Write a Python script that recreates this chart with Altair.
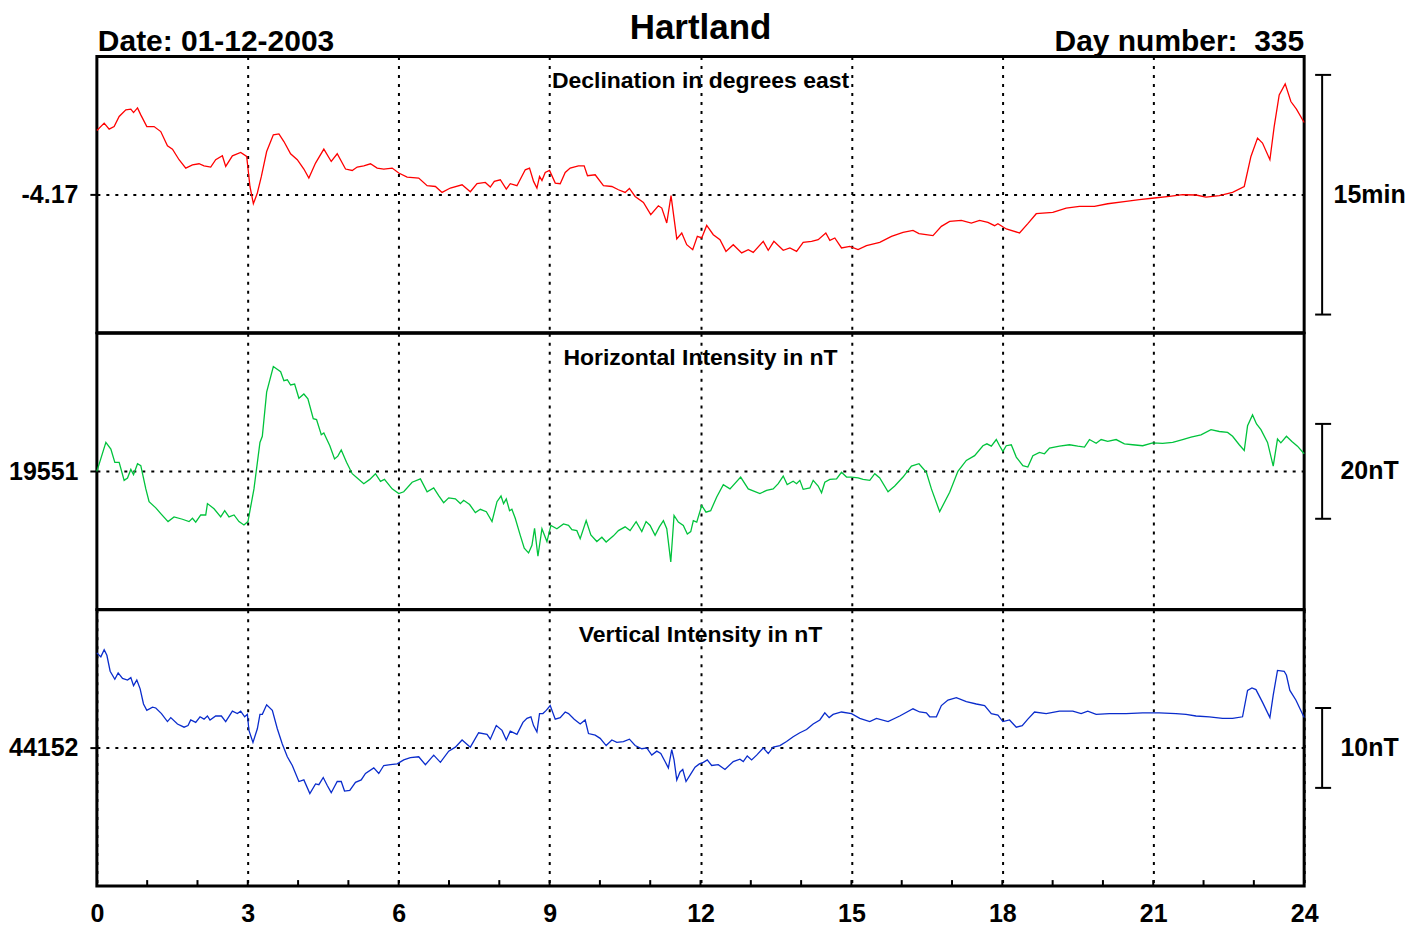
import altair as alt
import pandas as pd

FONT = "Liberation Sans"
W = 1209
PH = 276.67

# ---------------- Declination (degrees east) ----------------
D_T = [0.0, 0.145, 0.244, 0.343, 0.443, 0.576, 0.675, 0.729, 0.808, 0.873, 0.993, 1.137, 1.270, 1.403, 1.503,
       1.634, 1.767, 1.900, 2.031, 2.130, 2.263, 2.362, 2.495, 2.561, 2.694, 2.859, 2.978, 3.043, 3.111, 3.190,
       3.270, 3.375, 3.508, 3.619, 3.718, 3.851, 3.984, 4.115, 4.214, 4.347, 4.512, 4.659, 4.778, 4.943, 5.076,
       5.175, 5.306, 5.439, 5.572, 5.703, 5.870, 6.001, 6.168, 6.398, 6.565, 6.730, 6.862, 7.027, 7.260, 7.424,
       7.557, 7.722, 7.821, 7.901, 8.020, 8.139, 8.218, 8.351, 8.516, 8.601, 8.681, 8.748, 8.800, 8.848, 8.913,
       8.999, 9.112, 9.211, 9.310, 9.409, 9.574, 9.687, 9.753, 9.906, 10.070, 10.237, 10.368, 10.501, 10.587,
       10.700, 10.865, 11.011, 11.162, 11.230, 11.329, 11.414, 11.528, 11.627, 11.726, 11.845, 11.937, 12.024,
       12.123, 12.254, 12.387, 12.506, 12.651, 12.818, 12.949, 13.048, 13.247, 13.346, 13.459, 13.644, 13.777,
       13.910, 14.041, 14.208, 14.339, 14.491, 14.571, 14.670, 14.803, 14.968, 15.132, 15.299, 15.563, 15.796,
       16.026, 16.224, 16.343, 16.621, 16.788, 16.953, 17.185, 17.384, 17.548, 17.713, 17.846, 17.912, 18.079,
       18.342, 18.507, 18.674, 19.003, 19.269, 19.533, 19.831, 20.095, 20.460, 20.724, 21.022, 21.320, 21.584,
       21.850, 22.049, 22.313, 22.577, 22.809, 22.942, 23.073, 23.172, 23.319, 23.404, 23.504, 23.623, 23.736,
       23.847, 24.0]
D_V = [-4.1030, -4.0953, -4.1016, -4.0989, -4.0884, -4.0815, -4.0807, -4.0843, -4.0794, -4.0867, -4.0989,
       -4.0989, -4.1041, -4.1190, -4.1224, -4.1335, -4.1422, -4.1388, -4.1377, -4.1398, -4.1411, -4.1335,
       -4.1294, -4.1405, -4.1294, -4.1259, -4.1301, -4.1614, -4.1794, -4.1682, -4.1509, -4.1249, -4.1075,
       -4.1065, -4.1145, -4.1273, -4.1335, -4.1432, -4.1526, -4.1370, -4.1224, -4.1353, -4.1273, -4.1432,
       -4.1447, -4.1411, -4.1398, -4.1377, -4.1422, -4.1432, -4.1422, -4.1474, -4.1516, -4.1526, -4.1606,
       -4.1614, -4.1676, -4.1630, -4.1596, -4.1669, -4.1585, -4.1572, -4.1620, -4.1561, -4.1544, -4.1641,
       -4.1585, -4.1606, -4.1440, -4.1422, -4.1561, -4.1630, -4.1509, -4.1551, -4.1468, -4.1447, -4.1578,
       -4.1585, -4.1468, -4.1422, -4.1398, -4.1398, -4.1502, -4.1492, -4.1606, -4.1614, -4.1648, -4.1676,
       -4.1634, -4.1718, -4.1780, -4.1908, -4.1815, -4.1839, -4.1995, -4.1710, -4.2161, -4.2099, -4.2221,
       -4.2273, -4.2134, -4.2151, -4.2020, -4.2117, -4.2169, -4.2291, -4.2221, -4.2307, -4.2273, -4.2301,
       -4.2186, -4.2280, -4.2186, -4.2280, -4.2255, -4.2291, -4.2197, -4.2186, -4.2169, -4.2099, -4.2176,
       -4.2151, -4.2255, -4.2239, -4.2273, -4.2231, -4.2197, -4.2134, -4.2093, -4.2072, -4.2106, -4.2127,
       -4.2030, -4.1978, -4.1968, -4.1995, -4.1968, -4.1989, -4.2023, -4.2002, -4.2057, -4.2099, -4.2002,
       -4.1898, -4.1884, -4.1839, -4.1822, -4.1822, -4.1794, -4.1770, -4.1752, -4.1734, -4.1718, -4.1700,
       -4.1703, -4.1724, -4.1710, -4.1676, -4.1614, -4.1301, -4.1109, -4.1161, -4.1335, -4.0989, -4.0658,
       -4.0544, -4.0728, -4.0807, -4.0947]

# ---------------- Horizontal intensity (nT) ----------------
H_T = [0.0, 0.179, 0.278, 0.357, 0.443, 0.542, 0.609, 0.675, 0.729, 0.808, 0.873, 0.973, 1.038, 1.171, 1.270,
       1.415, 1.534, 1.701, 1.832, 1.900, 1.965, 2.065, 2.164, 2.198, 2.329, 2.462, 2.541, 2.626, 2.726, 2.825,
       2.924, 3.003, 3.123, 3.242, 3.289, 3.375, 3.508, 3.653, 3.718, 3.786, 3.851, 3.931, 4.016, 4.115, 4.195,
       4.302, 4.367, 4.461, 4.512, 4.631, 4.725, 4.790, 4.858, 4.963, 5.076, 5.175, 5.306, 5.425, 5.538, 5.638,
       5.717, 5.870, 6.001, 6.100, 6.267, 6.432, 6.565, 6.696, 6.795, 6.894, 6.994, 7.127, 7.226, 7.291, 7.410,
       7.524, 7.623, 7.742, 7.855, 7.954, 8.034, 8.085, 8.139, 8.204, 8.250, 8.317, 8.417, 8.496, 8.582, 8.649,
       8.701, 8.768, 8.848, 8.947, 9.026, 9.145, 9.276, 9.376, 9.443, 9.542, 9.608, 9.727, 9.820, 9.939, 10.039,
       10.124, 10.269, 10.368, 10.501, 10.600, 10.720, 10.833, 10.918, 10.998, 11.097, 11.182, 11.262, 11.329,
       11.409, 11.474, 11.559, 11.658, 11.738, 11.806, 11.857, 11.925, 12.024, 12.109, 12.202, 12.322, 12.453,
       12.586, 12.798, 12.949, 13.181, 13.314, 13.445, 13.545, 13.644, 13.723, 13.842, 13.910, 13.975, 14.041,
       14.174, 14.240, 14.339, 14.406, 14.471, 14.571, 14.704, 14.803, 14.903, 15.002, 15.133, 15.232, 15.365,
       15.464, 15.563, 15.728, 15.861, 16.026, 16.193, 16.343, 16.490, 16.590, 16.754, 16.953, 17.117, 17.284,
       17.449, 17.614, 17.693, 17.781, 17.880, 17.945, 18.011, 18.078, 18.178, 18.277, 18.408, 18.507, 18.607,
       18.739, 18.838, 18.938, 19.136, 19.335, 19.500, 19.633, 19.732, 19.865, 19.964, 20.095, 20.262, 20.427,
       20.592, 20.790, 20.989, 21.187, 21.386, 21.584, 21.751, 21.949, 22.148, 22.313, 22.478, 22.577, 22.710,
       22.809, 22.875, 22.974, 23.053, 23.141, 23.272, 23.385, 23.470, 23.537, 23.648, 23.756, 23.867, 24.0]
H_V = [19551.0, 19557.1, 19555.7, 19552.9, 19552.9, 19549.1, 19549.6, 19551.4, 19550.3, 19552.6, 19552.2,
       19547.3, 19544.6, 19543.3, 19542.1, 19540.4, 19541.4, 19540.9, 19540.4, 19541.1, 19540.3, 19541.8,
       19541.8, 19544.2, 19543.1, 19541.4, 19542.7, 19541.4, 19541.8, 19540.4, 19539.7, 19540.4, 19547.3,
       19557.1, 19558.4, 19567.7, 19573.1, 19572.0, 19570.1, 19570.3, 19569.2, 19569.4, 19566.4, 19567.3,
       19566.3, 19562.1, 19561.9, 19558.7, 19559.1, 19556.4, 19553.6, 19554.2, 19555.5, 19552.9, 19550.5,
       19549.6, 19548.4, 19549.3, 19550.5, 19548.9, 19549.3, 19547.3, 19546.3, 19546.7, 19548.7, 19549.4,
       19546.7, 19547.5, 19545.9, 19544.4, 19545.4, 19545.2, 19544.2, 19544.9, 19544.0, 19542.3, 19543.0,
       19542.5, 19540.4, 19544.6, 19545.8, 19544.2, 19545.2, 19542.7, 19543.0, 19541.1, 19537.5, 19534.8,
       19533.8, 19535.4, 19539.0, 19533.1, 19538.9, 19536.2, 19539.6, 19538.9, 19539.9, 19539.6, 19538.7,
       19538.5, 19536.8, 19540.6, 19537.6, 19536.2, 19537.1, 19536.1, 19537.4, 19538.5, 19539.3, 19538.5,
       19540.4, 19538.3, 19540.4, 19539.6, 19537.5, 19539.3, 19540.6, 19538.9, 19531.9, 19541.7, 19540.3,
       19539.6, 19537.8, 19538.3, 19540.6, 19540.3, 19543.8, 19542.4, 19542.7, 19545.6, 19548.2, 19547.3,
       19549.8, 19547.3, 19546.3, 19547.0, 19547.3, 19548.4, 19550.0, 19548.2, 19548.9, 19548.4, 19549.1,
       19547.2, 19547.5, 19549.1, 19547.9, 19546.5, 19548.7, 19549.3, 19549.4, 19550.8, 19549.8, 19549.8,
       19549.6, 19549.3, 19549.1, 19550.5, 19549.6, 19546.7, 19547.9, 19549.8, 19552.1, 19552.6, 19550.8,
       19547.3, 19542.5, 19546.6, 19551.0, 19553.3, 19554.3, 19556.4, 19556.8, 19556.3, 19557.7, 19556.4,
       19555.2, 19556.4, 19556.6, 19554.0, 19552.2, 19551.9, 19554.3, 19555.0, 19554.7, 19555.9, 19556.3,
       19556.6, 19556.3, 19556.1, 19557.7, 19556.9, 19557.7, 19557.3, 19557.7, 19556.8, 19556.6, 19556.4,
       19557.0, 19556.9, 19557.1, 19557.7, 19558.2, 19558.7, 19559.8, 19559.4, 19559.2, 19558.4, 19556.6,
       19555.4, 19560.6, 19562.9, 19561.0, 19559.8, 19557.1, 19552.1, 19557.8, 19557.0, 19558.4, 19557.3,
       19556.3, 19554.7]

# ---------------- Vertical intensity (nT) ----------------
Z_T = [0.0, 0.079, 0.145, 0.199, 0.264, 0.357, 0.423, 0.510, 0.609, 0.675, 0.729, 0.794, 0.860, 0.927, 0.993,
       1.106, 1.171, 1.284, 1.403, 1.469, 1.602, 1.733, 1.812, 1.866, 1.965, 2.051, 2.130, 2.198, 2.249, 2.362,
       2.475, 2.561, 2.694, 2.793, 2.859, 2.938, 2.992, 3.023, 3.103, 3.190, 3.242, 3.289, 3.375, 3.488, 3.587,
       3.686, 3.786, 3.885, 4.016, 4.115, 4.234, 4.347, 4.413, 4.500, 4.580, 4.659, 4.778, 4.858, 4.923, 5.028,
       5.141, 5.255, 5.340, 5.505, 5.604, 5.703, 5.836, 5.969, 6.100, 6.233, 6.398, 6.531, 6.696, 6.829, 6.994,
       7.127, 7.260, 7.424, 7.589, 7.756, 7.821, 7.940, 8.054, 8.139, 8.218, 8.351, 8.470, 8.550, 8.629, 8.681,
       8.748, 8.800, 8.867, 8.933, 9.012, 9.112, 9.211, 9.310, 9.376, 9.489, 9.608, 9.707, 9.773, 9.906, 10.005,
       10.124, 10.237, 10.336, 10.467, 10.587, 10.700, 10.833, 10.932, 11.031, 11.131, 11.210, 11.295, 11.361,
       11.428, 11.474, 11.528, 11.593, 11.647, 11.712, 11.792, 11.891, 11.977, 12.056, 12.135, 12.222, 12.353,
       12.486, 12.651, 12.784, 12.850, 12.929, 13.016, 13.116, 13.247, 13.346, 13.445, 13.578, 13.711, 13.842,
       13.975, 14.108, 14.239, 14.372, 14.471, 14.557, 14.636, 14.803, 15.002, 15.166, 15.365, 15.498, 15.728,
       15.960, 16.224, 16.357, 16.490, 16.556, 16.689, 16.788, 16.919, 17.086, 17.284, 17.483, 17.648, 17.781,
       17.912, 18.011, 18.144, 18.277, 18.396, 18.507, 18.640, 18.872, 19.136, 19.401, 19.567, 19.698, 19.865,
       20.129, 20.461, 20.790, 21.122, 21.453, 21.651, 21.850, 22.114, 22.378, 22.577, 22.775, 22.875, 22.962,
       23.042, 23.173, 23.319, 23.385, 23.470, 23.603, 23.648, 23.716, 23.835, 24.0]
Z_V = [44163.9, 44163.4, 44164.3, 44163.6, 44161.6, 44160.6, 44161.4, 44160.7, 44160.5, 44160.8, 44159.8,
       44160.5, 44159.4, 44157.5, 44156.7, 44157.1, 44157.0, 44156.3, 44155.3, 44155.8, 44155.0, 44154.6,
       44154.8, 44155.5, 44155.2, 44155.9, 44155.6, 44156.0, 44155.5, 44156.0, 44156.0, 44155.3, 44156.6,
       44156.3, 44156.6, 44155.9, 44156.2, 44154.2, 44152.7, 44154.4, 44156.2, 44156.2, 44157.4, 44156.7,
       44154.4, 44152.5, 44150.9, 44149.8, 44147.8, 44148.0, 44146.3, 44147.5, 44147.4, 44148.3, 44147.3,
       44146.4, 44147.8, 44147.8, 44146.6, 44146.7, 44147.7, 44148.0, 44148.8, 44149.5, 44148.8, 44149.8,
       44149.9, 44150.0, 44150.5, 44150.8, 44150.9, 44149.9, 44151.1, 44150.2, 44151.6, 44152.1, 44153.0,
       44152.1, 44153.9, 44153.7, 44153.1, 44154.8, 44154.2, 44153.0, 44154.1, 44153.7, 44155.2, 44155.7,
       44155.9, 44154.8, 44154.0, 44156.3, 44156.3, 44156.7, 44157.3, 44155.6, 44155.8, 44156.5, 44156.3,
       44155.6, 44155.0, 44155.5, 44153.8, 44153.6, 44153.2, 44152.3, 44153.0, 44152.7, 44152.8, 44153.1,
       44152.3, 44151.9, 44152.0, 44151.1, 44151.6, 44151.3, 44150.3, 44149.5, 44151.8, 44150.5, 44148.0,
       44149.0, 44149.3, 44147.8, 44148.6, 44149.6, 44150.0, 44150.2, 44150.5, 44149.8, 44149.9, 44149.3,
       44150.3, 44150.6, 44150.3, 44151.0, 44150.5, 44151.1, 44152.0, 44151.3, 44152.1, 44152.3, 44152.8,
       44153.4, 44153.9, 44154.3, 44155.0, 44155.5, 44156.4, 44155.8, 44156.2, 44156.5, 44156.3, 44155.7,
       44155.3, 44155.7, 44155.3, 44156.0, 44156.9, 44156.5, 44156.4, 44155.9, 44155.9, 44157.3, 44158.0,
       44158.3, 44157.8, 44157.5, 44157.3, 44156.3, 44156.1, 44155.3, 44155.5, 44154.6, 44154.8, 44155.6,
       44156.5, 44156.3, 44156.6, 44156.6, 44156.3, 44156.6, 44156.2, 44156.3, 44156.3, 44156.4, 44156.4,
       44156.3, 44156.2, 44156.0, 44155.9, 44155.7, 44155.7, 44155.9, 44159.2, 44159.5, 44159.3, 44157.7,
       44155.8, 44158.6, 44161.7, 44161.6, 44161.1, 44159.2, 44158.0, 44155.8]

HOURS_LABELLED = [0, 3, 6, 9, 12, 15, 18, 21, 24]
HOURS_GRID = [3, 6, 9, 12, 15, 18, 21]
HOURS_MINOR = list(range(1, 24))

PANELS = [
    {"name": "Declination in degrees east", "t": D_T, "v": D_V, "base": -4.17, "label": "-4.17",
     "half": 0.1441, "bar": 0.125, "bar_text": "15min", "color": "#ff0000", "title_y": 31},
    {"name": "Horizontal Intensity in nT", "t": H_T, "v": H_V, "base": 19551, "label": "19551",
     "half": 29.12, "bar": 10, "bar_text": "20nT", "color": "#00c33c", "title_y": 32},
    {"name": "Vertical Intensity in nT", "t": Z_T, "v": Z_V, "base": 44152, "label": "44152",
     "half": 17.29, "bar": 5, "bar_text": "10nT", "color": "#0a2ccc", "title_y": 32},
]


def txt(**kw):
    base = dict(font=FONT, fontWeight="bold", color="black")
    base.update(kw)
    return base


def make_panel(p, top=False, bottom=False):
    xs = alt.Scale(domain=[0, 24], nice=False, zero=False)
    ys = alt.Scale(domain=[p["base"] - p["half"], p["base"] + p["half"]], nice=False, zero=False)
    grid_common = dict(grid=True, gridColor="black", gridDash=[3, 6], gridWidth=2,
                       domain=False, title=None, ticks=False)
    if bottom:
        xa = alt.Axis(values=HOURS_LABELLED, labels=True, labelFont=FONT, labelFontSize=25,
                      labelFontWeight="bold", labelColor="black", labelPadding=15,
                      labelFlush=False, labelOverlap=False, **grid_common)
    else:
        xa = alt.Axis(values=HOURS_GRID, labels=False, **grid_common)
    ya = alt.Axis(values=[p["base"]], labelExpr="'" + p["label"] + "'", grid=True, gridColor="black",
                  gridDash=[3, 6], gridWidth=2, domain=False, title=None, ticks=True, tickSize=7,
                  tickWidth=2, tickColor="black", labelFont=FONT, labelFontSize=25,
                  labelFontWeight="bold", labelColor="black", labelPadding=12)
    X = alt.X("t:Q", scale=xs, axis=xa)
    Y = alt.Y("v:Q", scale=ys, axis=ya)

    df = pd.DataFrame({"t": p["t"], "v": p["v"]})
    line = alt.Chart(df).mark_line(color=p["color"], strokeWidth=1.3).encode(x=X, y=Y)

    bar_df = pd.DataFrame({"v": [p["base"] - p["bar"]], "v2": [p["base"] + p["bar"]]})
    bar = alt.Chart(bar_df).mark_rule(color="black", strokeWidth=2).encode(
        x=alt.value(1227), y=Y, y2="v2:Q")
    caps_df = pd.DataFrame({"v": [p["base"] - p["bar"], p["base"] + p["bar"]]})
    caps = alt.Chart(caps_df).mark_rule(color="black", strokeWidth=2).encode(
        x=alt.value(1220), x2=alt.value(1236), y=Y)
    lab_df = pd.DataFrame({"v": [p["base"]], "s": [p["bar_text"]]})
    lab = alt.Chart(lab_df).mark_text(**txt(fontSize=25, align="center", baseline="middle")).encode(
        x=alt.value(1274.5), y=Y, text="s:N")
    ttl_df = pd.DataFrame({"s": [p["name"]]})
    ttl = alt.Chart(ttl_df).mark_text(**txt(fontSize=23, align="center", baseline="alphabetic")).encode(
        x=alt.value(W / 2), y=alt.value(p["title_y"]), text="s:N")
    layers = [line, bar, caps, lab, ttl]

    if top:
        one = pd.DataFrame({"s": ["Hartland"]})
        layers.append(alt.Chart(one).mark_text(**txt(fontSize=35, align="center", baseline="alphabetic"))
                      .encode(x=alt.value(W / 2), y=alt.value(-18), text="s:N"))
        d1 = pd.DataFrame({"s": ["Date: 01-12-2003"]})
        layers.append(alt.Chart(d1).mark_text(**txt(fontSize=30, align="left", baseline="alphabetic"))
                      .encode(x=alt.value(1), y=alt.value(-6), text="s:N"))
        d2 = pd.DataFrame({"s": ["Day number: \u00a0335"]})
        layers.append(alt.Chart(d2).mark_text(**txt(fontSize=30, align="right", baseline="alphabetic"))
                      .encode(x=alt.value(W), y=alt.value(-6), text="s:N"))
    if bottom:
        tk = pd.DataFrame({"t": HOURS_MINOR})
        layers.append(alt.Chart(tk).mark_rule(color="black", strokeWidth=2).encode(
            x=X, y=alt.value(PH), y2=alt.value(PH - 6)))

    return alt.layer(*layers).properties(width=W, height=PH)


panels = [make_panel(PANELS[0], top=True), make_panel(PANELS[1]), make_panel(PANELS[2], bottom=True)]

chart = (
    alt.vconcat(*panels, spacing=0, bounds="flush")
    .properties(padding={"left": -2, "top": 0, "right": 5, "bottom": 5})
    .configure_view(stroke="black", strokeWidth=3)
)

chart.save("out.html", embed_options={"renderer": "svg", "actions": False})
